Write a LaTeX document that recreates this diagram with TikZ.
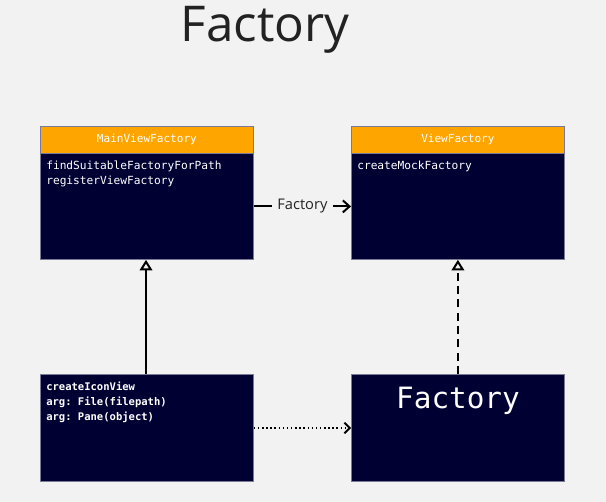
\documentclass[tikz,border=0pt]{standalone}
\usepackage{fontspec}
\setmainfont{Open Sans}
\setmonofont{DejaVu Sans Mono}
\usetikzlibrary{arrows.meta}
\definecolor{bg}{HTML}{F2F2F2}
\definecolor{hdr}{HTML}{FFA500}
\definecolor{navy}{HTML}{000033}
\definecolor{edge}{HTML}{7A7A96}
\definecolor{ink}{HTML}{222222}
\tikzset{
  hdrbox/.style={draw=edge, line width=0.6pt, fill=hdr, minimum width=159.75pt, minimum height=20.25pt, anchor=north west, inner sep=0pt, text=white, font=\ttfamily\fontsize{8.3}{11}\selectfont},
  bodybox/.style={draw=edge, line width=0.6pt, fill=navy, minimum width=159.75pt, minimum height=#1, anchor=north west, inner sep=0pt},
  bodytext/.style={anchor=north west, text=white, inner sep=0pt, align=left, font=\ttfamily\fontsize{8.4}{11.25}\selectfont},
  conn/.style={line width=1.5pt, draw=black},
  openhead/.style={-{Triangle[open, length=8pt, width=9.5pt]}},
}
\begin{document}
\begin{tikzpicture}[x=0.75pt, y=-0.75pt]
\useasboundingbox (0,0) rectangle (606,502);
\fill[bg] (0,0) rectangle (606,502);
\node[text=ink, font=\fontsize{37}{40}\selectfont, anchor=base] (title) at (265,42) {Factory};

\node[hdrbox] (mh) at (40,126) {MainViewFactory};
\node[bodybox=79.5pt] (mb) at (40,153) {};
\node[bodytext] (mt) at (46,161) {findSuitableFactoryForPath\\registerViewFactory};

\node[hdrbox] (vh) at (351,126) {ViewFactory};
\node[bodybox=79.5pt] (vb) at (351,153) {};
\node[bodytext] (vt) at (357,161) {createMockFactory};

\node[bodybox=80.25pt] (ib) at (40,374) {};
\node[bodytext, font=\ttfamily\bfseries\fontsize{7.9}{11.25}\selectfont] (it) at (46,382) {createIconView\\arg: File(filepath)\\arg: Pane(object)};

\node[bodybox=80.25pt] (fb) at (351,374) {};
\node[anchor=base, text=white, font=\ttfamily\fontsize{22}{24}\selectfont] (ft) at (458,408) {Factory};

\draw[conn, -{Straight Barb[length=5pt,width=9pt]}] (mb.east) -- node[fill=bg, inner xsep=4pt, inner ysep=2pt, text=ink, font=\fontsize{11}{13}\selectfont] (lbl) {Factory} (vb.west);
\draw[conn, openhead] (ib.north -| 146,0) -- (mb.south -| 146,0);
\draw[conn, dash pattern=on 6pt off 4pt, openhead] (fb.north) -- (vb.south);
\draw[line width=1.1pt, dotted, -{Straight Barb[length=4pt,width=8pt, line width=1.4pt]}] (ib.east |- 0,428) -- (fb.west |- 0,428);
\end{tikzpicture}
\end{document}
